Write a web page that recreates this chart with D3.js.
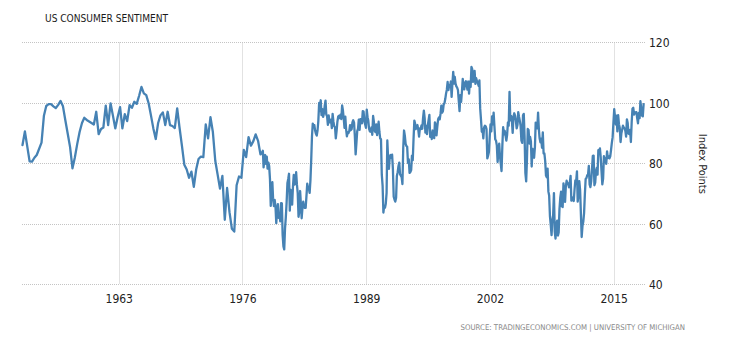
<!DOCTYPE html>
<html>
<head>
<meta charset="utf-8">
<script src="https://cdn.jsdelivr.net/npm/d3@7"></script>
<style>
  html, body { margin: 0; padding: 0; background: #fff; }
  svg { display: block; }
  text { font-family: "Liberation Sans Narrow", "DejaVu Sans Condensed", "Liberation Sans", sans-serif; }
</style>
</head>
<body>
<svg id="chart" width="730" height="340"></svg>
<script>
// ---------------- DATA ----------------
const title = "US CONSUMER SENTIMENT";
const axisTitle = "Index Points";
const sourceText = "SOURCE: TRADINGECONOMICS.COM | UNIVERSITY OF MICHIGAN";
const tickYears = [1963, 1976, 1989, 2002, 2015];
const yTicks = [40, 60, 80, 100, 120];

// Quarterly survey readings (1952 - 1977)
const earlyDates = [
  "1952-11","1953-02","1953-08","1953-11","1954-02","1954-05","1954-11",
  "1955-02","1955-05","1955-08","1955-11","1956-02","1956-05","1956-08","1956-11",
  "1957-02","1957-05","1957-08","1957-11","1958-02","1958-05","1958-08","1958-11",
  "1959-02","1959-05","1959-08","1959-11","1960-02","1960-05","1960-08","1960-11",
  "1961-02","1961-05","1961-08","1961-11","1962-02","1962-05","1962-08","1962-11",
  "1963-02","1963-05","1963-08","1963-11","1964-02","1964-05","1964-08","1964-11",
  "1965-02","1965-05","1965-08","1965-11","1966-02","1966-05","1966-08","1966-11",
  "1967-02","1967-05","1967-08","1967-11","1968-02","1968-05","1968-08","1968-11",
  "1969-02","1969-05","1969-08","1969-11","1970-02","1970-05","1970-08","1970-11",
  "1971-02","1971-05","1971-08","1971-11","1972-02","1972-05","1972-08","1972-11",
  "1973-02","1973-05","1973-08","1973-11","1974-02","1974-05","1974-08","1974-11",
  "1975-02","1975-05","1975-08","1975-11","1976-02","1976-05","1976-08","1976-11",
  "1977-02","1977-05","1977-08","1977-11"
];
const earlyValues = [
  86.2, 90.7, 80.8, 80.7, 82.0, 82.9, 87.0,
  95.9, 99.1, 99.7, 99.7, 99.0, 98.4, 99.5, 100.8,
  99.0, 94.5, 90.0, 85.5, 78.5, 82.0, 86.5, 90.5,
  93.5, 95.2, 94.5, 94.0, 93.5, 93.0, 97.2, 89.8,
  91.5, 92.0, 99.2, 92.8, 100.0, 96.0, 91.7, 95.5,
  98.7, 91.7, 96.4, 94.1, 99.4, 98.5, 100.5, 99.8,
  102.5, 105.4, 103.3, 102.7, 100.0, 96.0, 91.7, 88.2,
  93.5, 96.0, 97.0, 92.8, 97.2, 92.8, 92.5, 91.8,
  98.3, 92.0, 86.0, 79.7, 78.1, 75.4, 77.4, 72.4,
  78.2, 81.6, 82.4, 82.2, 93.0, 88.4, 95.4, 90.5,
  81.0, 76.5, 71.8, 76.0, 61.5, 72.0, 64.0, 58.5,
  57.6, 72.9, 75.8, 75.4, 84.6, 82.2, 88.8, 86.0,
  87.5, 89.7, 87.6, 83.1
];

// Monthly readings from January 1978 to February 2018
const monthlyStart = "1978-01";
const monthlyValues = [
  83.7, 84.3, 78.8, 81.6, 82.9, 80.0, 82.4, 78.4, 80.4, 79.3, 75.0, 66.1,   // 1978
  72.1, 73.9, 68.4, 66.0, 68.1, 65.8, 60.4, 64.5, 66.7, 62.1, 63.3, 61.0,   // 1979
  67.0, 66.9, 56.5, 52.7, 51.7, 58.7, 62.3, 67.3, 73.7, 75.0, 76.7, 64.5,   // 1980
  71.4, 66.9, 66.5, 72.4, 76.3, 73.1, 74.1, 77.2, 73.1, 70.3, 62.5, 64.3,   // 1981
  71.0, 66.5, 62.0, 65.5, 67.5, 65.7, 65.4, 65.4, 69.3, 73.4, 72.1, 71.9,   // 1982
  70.4, 74.6, 80.8, 89.1, 93.3, 92.2, 92.8, 90.9, 89.9, 89.3, 91.1, 94.2,   // 1983
  100.1, 97.4, 101.0, 96.1, 98.1, 95.5, 96.6, 99.1, 100.9, 96.3, 95.7, 92.9, // 1984
  96.0, 93.7, 93.7, 94.6, 91.8, 96.5, 94.0, 92.4, 92.1, 88.4, 90.9, 93.9,   // 1985
  95.6, 95.9, 95.1, 96.2, 94.8, 99.3, 97.7, 94.9, 91.9, 95.6, 91.4, 89.1,   // 1986
  90.4, 90.2, 90.8, 92.8, 91.1, 91.5, 93.7, 94.4, 93.6, 89.3, 83.1, 86.8,   // 1987
  90.8, 91.6, 94.6, 91.2, 94.8, 94.7, 93.4, 97.4, 97.3, 94.1, 93.0, 91.9,   // 1988
  97.9, 95.4, 94.3, 91.5, 90.7, 90.6, 92.0, 89.6, 95.8, 93.9, 90.9, 90.5,   // 1989
  93.0, 89.5, 91.3, 93.9, 90.6, 88.3, 88.2, 76.4, 72.8, 63.9, 66.0, 65.5,   // 1990
  66.8, 70.4, 87.7, 81.8, 78.3, 82.1, 82.9, 82.0, 83.0, 78.3, 69.1, 68.2,   // 1991
  67.5, 68.8, 76.0, 77.2, 79.2, 80.4, 76.6, 76.1, 75.6, 73.3, 85.3, 91.0,   // 1992
  89.3, 86.6, 85.9, 85.6, 80.3, 81.5, 77.0, 77.3, 77.9, 82.7, 81.2, 88.2,   // 1993
  94.3, 93.2, 91.5, 92.6, 92.8, 91.2, 89.0, 91.7, 91.5, 92.7, 91.6, 95.1,   // 1994
  97.6, 95.1, 90.3, 92.5, 89.8, 92.7, 94.4, 96.2, 88.9, 90.2, 88.2, 91.0,   // 1995
  89.3, 88.5, 93.7, 92.7, 89.4, 92.4, 94.7, 95.3, 94.7, 96.5, 99.2, 96.9,   // 1996
  97.4, 99.7, 100.0, 101.4, 103.2, 104.5, 107.1, 104.4, 106.0, 105.6, 107.2, 102.1, // 1997
  106.6, 110.4, 106.5, 108.7, 106.5, 105.6, 105.2, 104.4, 100.9, 97.4, 102.7, 100.5, // 1998
  103.9, 108.1, 105.7, 104.6, 106.8, 107.3, 106.0, 104.5, 107.2, 103.2, 107.2, 105.4, // 1999
  112.0, 111.3, 107.1, 109.2, 110.7, 106.4, 108.3, 107.3, 106.8, 105.8, 107.6, 98.4, // 2000
  94.7, 90.6, 91.5, 88.4, 92.0, 92.6, 92.4, 91.5, 81.8, 82.7, 83.9, 88.8,   // 2001
  93.0, 90.7, 95.7, 93.0, 96.9, 92.4, 88.1, 87.6, 86.1, 80.6, 84.2, 86.7,   // 2002
  82.4, 79.9, 77.6, 86.0, 92.1, 89.7, 90.9, 89.3, 87.7, 89.6, 93.7, 92.6,   // 2003
  103.8, 94.4, 95.8, 94.2, 90.2, 95.6, 96.7, 95.9, 94.2, 91.7, 92.8, 97.1,  // 2004
  95.5, 94.1, 92.6, 87.7, 86.9, 96.0, 96.5, 89.1, 76.9, 74.2, 81.6, 91.5,   // 2005
  91.2, 86.7, 88.9, 87.4, 79.1, 84.9, 84.7, 82.0, 85.4, 93.6, 92.1, 91.7,   // 2006
  96.9, 91.3, 88.4, 87.1, 88.3, 85.3, 90.4, 83.4, 83.4, 80.9, 76.1, 75.5,   // 2007
  78.4, 70.8, 69.5, 62.6, 59.8, 56.4, 61.2, 63.0, 70.3, 57.6, 55.3, 60.1,   // 2008
  61.2, 56.3, 57.3, 65.1, 68.7, 70.8, 66.0, 65.7, 73.5, 70.6, 67.4, 72.5,   // 2009
  74.4, 73.6, 73.6, 72.2, 73.6, 76.0, 67.8, 68.9, 68.2, 67.7, 71.6, 74.5,   // 2010
  74.2, 77.5, 67.5, 69.8, 74.3, 71.5, 63.7, 55.8, 59.5, 60.8, 63.7, 69.9,   // 2011
  75.0, 75.3, 76.2, 76.4, 79.3, 73.2, 72.3, 74.3, 78.3, 82.6, 82.7, 72.9,   // 2012
  73.8, 77.6, 78.6, 76.4, 84.5, 84.1, 85.1, 82.1, 77.5, 73.2, 75.1, 82.5,   // 2013
  81.2, 81.6, 80.0, 84.1, 81.9, 82.5, 81.8, 82.5, 84.6, 86.9, 88.8, 93.6,   // 2014
  98.1, 95.4, 93.0, 95.9, 90.7, 96.1, 93.1, 91.9, 87.2, 90.0, 91.3, 92.6,   // 2015
  92.0, 91.7, 91.0, 89.0, 94.7, 93.5, 90.0, 89.8, 91.2, 87.2, 93.8, 98.2,   // 2016
  98.5, 96.3, 96.9, 97.0, 97.1, 95.0, 93.4, 96.8, 95.1, 100.7, 98.5, 95.9,  // 2017
  95.7, 99.7                                                                 // 2018
];

// ---------------- BUILD ----------------
const parseMonth = d3.timeParse("%Y-%m");
const series = earlyDates.map((d, i) => ({ date: parseMonth(d), value: earlyValues[i] }));
const start = parseMonth(monthlyStart);
monthlyValues.forEach((v, i) => {
  series.push({ date: d3.timeMonth.offset(start, i), value: v });
});

const svg = d3.select("#chart");
svg.append("rect").attr("width", 730).attr("height", 340).attr("fill", "#fff");

const plot = { left: 22.5, right: 643.6, top: 42.8, bottom: 284.8 };

const x = d3.scaleTime()
  .domain(d3.extent(series, d => d.date))
  .range([plot.left, plot.right]);
const y = d3.scaleLinear()
  .domain([40, 120])
  .range([plot.bottom, plot.top]);

const gridColor = "#c4c4c4";
const crisp = v => Math.floor(v) + 0.5;

// horizontal gridlines
svg.append("g").selectAll("line").data(yTicks).join("line")
  .attr("x1", 22).attr("x2", 645)
  .attr("y1", d => crisp(y(d))).attr("y2", d => crisp(y(d)))
  .attr("stroke", gridColor).attr("stroke-width", 1)
  .attr("stroke-dasharray", "1,1");

// vertical gridlines
const tickDates = tickYears.map(yr => new Date(yr, 0, 1));
svg.append("g").selectAll("line").data(tickDates).join("line")
  .attr("x1", d => crisp(x(d))).attr("x2", d => crisp(x(d)))
  .attr("y1", crisp(y(120))).attr("y2", crisp(y(40)))
  .attr("stroke", gridColor).attr("stroke-width", 1)
  .attr("stroke-dasharray", "1,1");

// line
const line = d3.line()
  .x(d => x(d.date))
  .y(d => y(d.value))
  .curve(d3.curveLinear);

svg.append("path")
  .datum(series)
  .attr("d", line)
  .attr("fill", "none")
  .attr("stroke", "#4682b4")
  .attr("stroke-width", 2.3)
  .attr("stroke-linejoin", "round")
  .attr("stroke-linecap", "round");

// y axis labels (right)
svg.append("g").selectAll("text").data(yTicks).join("text")
  .attr("x", 649)
  .attr("y", d => y(d) + 4.5)
  .attr("font-size", 12)
  .attr("fill", "#222")
  .text(d => d);

// x axis labels
svg.append("g").selectAll("text").data(tickDates).join("text")
  .attr("x", d => x(d))
  .attr("y", 303)
  .attr("text-anchor", "middle")
  .attr("font-size", 12)
  .attr("fill", "#222")
  .text((d, i) => tickYears[i]);

// fit a text's font-size so its natural width matches a target width
function fitWidth(sel, target, baseSize) {
  sel.attr("font-size", baseSize);
  const w = sel.node().getComputedTextLength();
  if (w > 0) sel.attr("font-size", (baseSize * target / w).toFixed(2));
}

// title
const titleText = svg.append("text")
  .attr("x", 45).attr("y", 22)
  .attr("fill", "#1a1a1a")
  .text(title);
fitWidth(titleText, 123, 12);

// axis title (rotated)
svg.append("text")
  .attr("transform", `translate(699, ${(plot.top + plot.bottom) / 2}) rotate(90)`)
  .attr("text-anchor", "middle")
  .attr("font-size", 11)
  .attr("fill", "#222")
  .text(axisTitle);

// source
const src = svg.append("text")
  .attr("x", 685).attr("y", 330)
  .attr("text-anchor", "end")
  .attr("fill", "#888")
  .text(sourceText);
fitWidth(src, 225, 10);
</script>
</body>
</html>
